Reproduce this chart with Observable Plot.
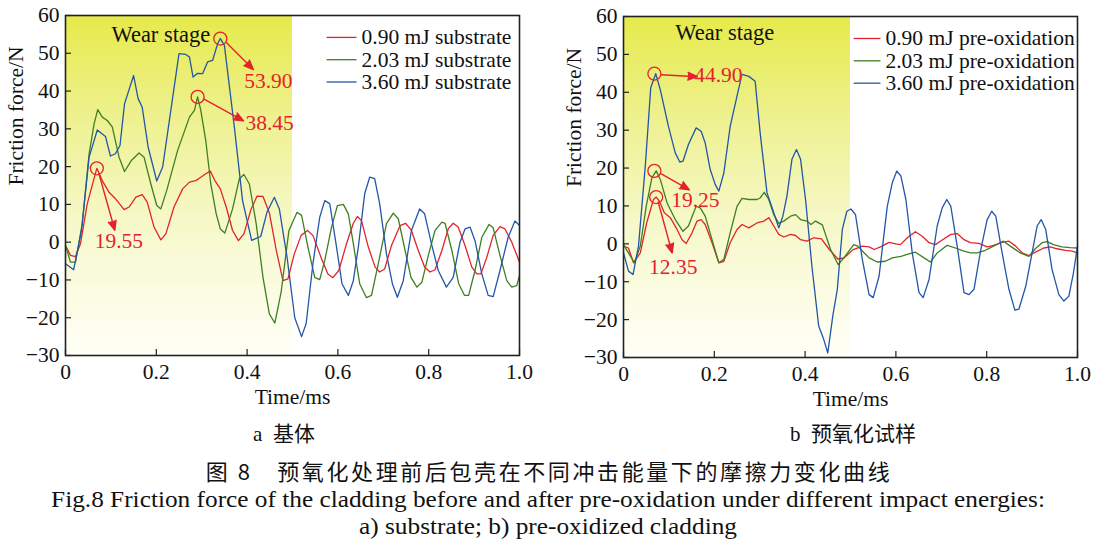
<!DOCTYPE html>
<html><head><meta charset="utf-8">
<script src="https://cdn.jsdelivr.net/npm/d3@7"></script>
<script src="https://cdn.jsdelivr.net/npm/@observablehq/plot@0.6"></script>
<style>
body{margin:0;background:#fff;}
#wrap{position:relative;width:1099px;height:550px;overflow:hidden;background:#fff;}
#row{display:flex;position:absolute;left:0;top:0;}
#row svg{display:block;}
.t{position:absolute;white-space:nowrap;color:#111;transform:translate(-50%,-50%);line-height:1;}
.w{transform:translate(-50%,-50%) scaleX(1.1);}
</style></head><body>
<div id="wrap"><div id="row"></div>
<div class="t" style="left:284px;top:432px;font:21px 'Liberation Serif','Noto Sans CJK SC';">a&nbsp; 基体</div>
<div class="t" style="left:853px;top:432px;font:21px 'Liberation Serif','Noto Sans CJK SC';">b&nbsp; 预氧化试样</div>
<div class="t" style="left:549px;top:470px;font:400 22px 'Noto Sans CJK SC';letter-spacing:2.6px;">图 8　预氧化处理前后包壳在不同冲击能量下的摩擦力变化曲线</div>
<div class="t w" style="left:548px;top:500px;font:23px 'Liberation Serif';">Fig.8 Friction force of the cladding before and after pre-oxidation under different impact energies:</div>
<div class="t w" style="left:548px;top:527px;font:23px 'Liberation Serif';">a) substrate; b) pre-oxidized cladding</div>
</div>
<script>
// ---------- data ----------
const xTicks = [0, 0.2, 0.4, 0.6, 0.8, 1.0];
const yTicks = [-30, -20, -10, 0, 10, 20, 30, 40, 50, 60];
const namesA = ["0.90 mJ substrate", "2.03 mJ substrate", "3.60 mJ substrate"];
const namesB = ["0.90 mJ pre-oxidation", "2.03 mJ pre-oxidation", "3.60 mJ pre-oxidation"];

const subRed = [[0,-0.9],[0.011,-3.5],[0.022,-3.8],[0.033,-0.4],[0.048,10.2],[0.069,19.55],[0.081,16.3],[0.096,13.2],[0.11,11.5],[0.129,8.6],[0.14,9.3],[0.155,11.9],[0.169,12.6],[0.18,10.6],[0.195,4],[0.21,0.6],[0.221,2.2],[0.239,9.3],[0.258,14.1],[0.273,15.9],[0.287,16.3],[0.298,17.2],[0.309,18.1],[0.319,18.8],[0.329,16.3],[0.341,14.1],[0.354,9.3],[0.368,3.1],[0.381,0.4],[0.393,2.2],[0.409,8.8],[0.422,12.2],[0.435,12.1],[0.449,7.8],[0.464,-2],[0.479,-10.2],[0.49,-9.7],[0.504,-3.1],[0.519,1.8],[0.533,3.1],[0.545,1.8],[0.564,-4.4],[0.578,-8.4],[0.589,-9.4],[0.602,-7.5],[0.619,-0.4],[0.634,5],[0.643,6.8],[0.652,5.7],[0.667,-1.3],[0.682,-6.6],[0.692,-7.9],[0.703,-7.1],[0.718,-0.9],[0.737,4.4],[0.749,5],[0.762,3.1],[0.777,-2.2],[0.791,-6.6],[0.803,-7.9],[0.814,-7.3],[0.829,-2.2],[0.843,3.5],[0.854,5],[0.865,4],[0.88,-0.9],[0.895,-6.6],[0.906,-8.4],[0.915,-8.4],[0.928,-4],[0.942,1.8],[0.957,4.1],[0.968,3.5],[0.983,0],[1.0,-5.3]];
const subGreen = [[0,-0.9],[0.011,-5.3],[0.022,-5.3],[0.037,4.9],[0.052,23.4],[0.063,31.3],[0.071,35.1],[0.081,33.1],[0.092,32.2],[0.103,30.5],[0.118,22.5],[0.13,18.7],[0.145,21.6],[0.162,23.6],[0.173,22.5],[0.188,15.4],[0.201,9.7],[0.21,8.8],[0.223,13.7],[0.247,24.3],[0.273,33.1],[0.284,34.9],[0.291,38.45],[0.298,34.9],[0.309,26.9],[0.32,15.4],[0.332,7.5],[0.341,3.5],[0.351,2.4],[0.368,8.8],[0.383,16.8],[0.393,17.9],[0.405,15.4],[0.42,4.9],[0.435,-9.3],[0.449,-19],[0.461,-21.4],[0.475,-13.2],[0.492,3],[0.51,7.9],[0.52,7.1],[0.534,-1.3],[0.549,-9.3],[0.56,-9.9],[0.571,-4.9],[0.586,4],[0.599,9.7],[0.612,10],[0.623,7.5],[0.634,-0.4],[0.648,-11],[0.663,-14.7],[0.674,-14.1],[0.689,-5.7],[0.707,4.9],[0.722,7.7],[0.733,6.2],[0.748,-2.2],[0.761,-9.3],[0.774,-11.9],[0.785,-10.6],[0.8,-3.1],[0.814,3.1],[0.829,5.3],[0.836,5],[0.851,-2.2],[0.866,-11],[0.879,-14.1],[0.888,-14.1],[0.902,-7.5],[0.917,1.3],[0.933,4.7],[0.942,3.8],[0.957,-3.5],[0.972,-10.2],[0.983,-11.9],[0.994,-11.5],[1.0,-8.8]];
const subBlue = [[0,-5.7],[0.018,-7.3],[0.035,3],[0.052,22.5],[0.07,29.7],[0.088,28],[0.099,22.8],[0.11,23.4],[0.12,25.6],[0.13,36.6],[0.15,44.1],[0.16,38],[0.169,35.7],[0.182,25.2],[0.201,16.2],[0.214,19.9],[0.232,34.9],[0.25,49.9],[0.265,49.7],[0.273,49],[0.281,43.7],[0.291,44.7],[0.302,44.6],[0.313,47.7],[0.324,48.1],[0.335,52.5],[0.341,53.9],[0.35,52.1],[0.372,30.4],[0.39,11],[0.41,0.5],[0.43,1.5],[0.444,8],[0.46,11.9],[0.471,8.8],[0.488,-4],[0.505,-20],[0.52,-25],[0.53,-21.6],[0.545,-5.7],[0.56,6.6],[0.571,11],[0.582,10.2],[0.597,-1.3],[0.609,-11],[0.623,-14.1],[0.634,-10.2],[0.645,-1.3],[0.659,12.8],[0.67,17.2],[0.681,16.8],[0.692,10.2],[0.707,-3.1],[0.72,-11],[0.731,-14.6],[0.744,-10.2],[0.762,3.1],[0.78,8.8],[0.791,7.5],[0.806,-0.4],[0.821,-7.5],[0.839,-11.9],[0.854,-9.3],[0.869,0],[0.88,3.5],[0.891,4],[0.902,0.4],[0.917,-8.4],[0.931,-14.1],[0.942,-14.4],[0.957,-7.5],[0.975,1.3],[0.99,5.6],[1.0,4.4]];

const preRed = [[0,-0.6],[0.011,-1.1],[0.022,-5],[0.037,-2.4],[0.051,5.5],[0.066,11.7],[0.072,12.35],[0.079,11.3],[0.09,8.2],[0.103,6.9],[0.118,3.8],[0.129,1.1],[0.138,0.1],[0.151,2.9],[0.162,6],[0.171,6.4],[0.18,5.1],[0.195,0.3],[0.21,-5],[0.221,-4.6],[0.235,0.3],[0.25,3.8],[0.261,5.1],[0.276,4.2],[0.294,5.5],[0.309,6],[0.32,6.9],[0.331,4.7],[0.342,2.5],[0.353,1.8],[0.368,2.5],[0.379,2.2],[0.39,1.1],[0.404,0.7],[0.419,1.6],[0.436,1.3],[0.452,-1.3],[0.472,-4],[0.486,-3.7],[0.505,-1.6],[0.526,-0.6],[0.541,-0.8],[0.552,-1.5],[0.566,-0.8],[0.585,0.4],[0.6,0],[0.61,-0.2],[0.627,1.8],[0.643,3.2],[0.658,2],[0.673,0.3],[0.687,-0.2],[0.702,1],[0.721,2.5],[0.735,2.7],[0.75,1.1],[0.764,0.3],[0.783,0.1],[0.801,-0.8],[0.815,-0.4],[0.834,0.4],[0.849,0.7],[0.864,-0.6],[0.878,-2.4],[0.893,-3.1],[0.907,-2.2],[0.926,-1.1],[0.94,-0.8],[0.955,-1.3],[0.973,-1.7],[0.988,-1.9],[1.0,-2.4]];
const preGreen = [[0,-0.2],[0.011,-2.4],[0.024,-5],[0.037,-0.6],[0.05,9.9],[0.0625,17.4],[0.072,19.25],[0.081,17],[0.096,10.8],[0.114,6.4],[0.131,3.3],[0.143,4.7],[0.16,9.9],[0.169,9.5],[0.18,7.3],[0.195,1.1],[0.21,-5],[0.221,-4.1],[0.235,2.9],[0.25,9.9],[0.261,12],[0.276,11.7],[0.294,11.7],[0.301,12.1],[0.31,13.6],[0.32,11.7],[0.331,7.7],[0.342,5.4],[0.353,6],[0.368,7.3],[0.379,7.7],[0.39,6.4],[0.404,6],[0.413,5.1],[0.423,6],[0.438,5],[0.456,-1.5],[0.473,-5.5],[0.49,-3],[0.507,-0.2],[0.516,-0.6],[0.526,-1.9],[0.541,-3.7],[0.559,-4.8],[0.577,-4.6],[0.592,-3.7],[0.611,-3.3],[0.625,-2.8],[0.643,-2.2],[0.662,-3.7],[0.676,-4.8],[0.691,-2.4],[0.713,-0.4],[0.731,-1.1],[0.75,-1.9],[0.764,-2.4],[0.779,-2.4],[0.797,-1.7],[0.815,-0.6],[0.837,0.7],[0.852,-0.6],[0.874,-2.4],[0.893,-3.3],[0.907,-1.3],[0.922,0.3],[0.933,0.6],[0.947,-0.2],[0.966,-0.8],[0.984,-1],[1.0,-1.1]];
const preBlue = [[0,-2.4],[0.011,-7.2],[0.021,-8.1],[0.033,-0.6],[0.048,20.5],[0.06,41.2],[0.071,44.9],[0.081,40.7],[0.099,31],[0.114,24],[0.124,21.6],[0.131,21.8],[0.143,26.2],[0.16,30.6],[0.171,29.7],[0.18,26.6],[0.191,19.6],[0.202,15.7],[0.21,13.9],[0.221,18.7],[0.235,31],[0.25,39],[0.261,44.7],[0.276,44.2],[0.29,42.9],[0.301,29.3],[0.316,13.5],[0.331,8.2],[0.342,4.2],[0.351,7.3],[0.36,12.6],[0.371,22.3],[0.381,24.9],[0.39,22.3],[0.401,11.7],[0.415,-5.9],[0.43,-21.7],[0.441,-25.2],[0.45,-28.8],[0.461,-19],[0.471,-12],[0.482,3.8],[0.492,8.6],[0.501,9.2],[0.511,7.7],[0.526,-4.1],[0.541,-13.4],[0.55,-14.2],[0.563,-8.5],[0.581,9.9],[0.592,16.1],[0.602,19.2],[0.611,17.9],[0.622,11.7],[0.636,-2.4],[0.651,-12.9],[0.66,-14.2],[0.673,-9.4],[0.691,4.7],[0.702,9.5],[0.712,11.7],[0.721,9.9],[0.735,-0.6],[0.75,-12.9],[0.761,-13.4],[0.772,-12],[0.787,-1.5],[0.801,6.4],[0.811,8.6],[0.82,7.3],[0.834,-2.4],[0.849,-12],[0.862,-17.5],[0.871,-17.2],[0.886,-11.2],[0.9,-2.4],[0.911,4.7],[0.92,6.4],[0.93,3.8],[0.944,-6.8],[0.959,-13.4],[0.97,-15.1],[0.981,-13.8],[0.991,-7.7],[1.0,-0.6]];

const peaksA = [{t:0.341, v:53.90, label:"53.90"}, {t:0.291, v:38.45, label:"38.45"}, {t:0.069, v:19.55, label:"19.55"}];
const peaksB = [{t:0.068, v:44.90, label:"44.90"}, {t:0.068, v:19.25, label:"19.25"}, {t:0.072, v:12.35, label:"12.35"}];
const wearEnd = 0.5;

// ---------- style / layout ----------
const RED = "#e3232c", GREEN = "#3f7f22", BLUE = "#2456a8";
const colors = [RED, GREEN, BLUE];
const FONT = "'Liberation Serif', 'Times New Roman', serif";
const FS = 21.5;
// pixel offsets of annotation parts relative to each peak: arrow start, arrow end, label centre
const annLayoutA = [
  {a1:[6,4],  a2:[33,31], l:[48,43]},
  {a1:[6,2],  a2:[46,24], l:[72,26]},
  {a1:[2,5],  a2:[18,62], l:[22,73]}
];
const annLayoutB = [
  {a1:[7,1],  a2:[43,3],  l:[64,1]},
  {a1:[7,3],  a2:[35,19], l:[41,29]},
  {a1:[2,5],  a2:[16,56], l:[17,70]}
];

function panel({series, names, peaks, ann, gradId, width, height, ml, mr, mt, mb, legT, wearPos}) {
  const fw = width - ml - mr, fh = height - mt - mb;
  const kx = fw / 1, ky = fh / 90;
  const annData = peaks.map((p, i) => ({...p, ...ann[i]}));
  const legRows = names.map((n, i) => ({name: n, color: colors[i], v: 54.2 - i * 5.9}));
  const marks = [
    Plot.rect([0], {x1: 0, x2: wearEnd, y1: -30, y2: 60, fill: `url(#${gradId})`}),
    ...series.map((s, i) => Plot.line(s, {x: d => d[0], y: d => d[1], stroke: colors[i], strokeWidth: 1.3})),
    Plot.tickX(xTicks, {x: d => d, insetTop: fh - 6, stroke: "#222", strokeWidth: 1.2}),
    Plot.tickY(yTicks, {y: d => d, insetRight: fw - 6, stroke: "#222", strokeWidth: 1.2}),
    Plot.frame({stroke: "#222", strokeWidth: 1.6}),
    Plot.text(["Wear stage"], {x: wearPos[0], y: wearPos[1], text: d => d, fontSize: 22.5, fill: "#111"}),
    Plot.dot(peaks, {x: "t", y: "v", r: 6.5, stroke: RED, fill: "none", strokeWidth: 1.3}),
    Plot.arrow(annData, {
      x1: d => d.t + d.a1[0] / kx, y1: d => d.v - d.a1[1] / ky,
      x2: d => d.t + d.a2[0] / kx, y2: d => d.v - d.a2[1] / ky,
      stroke: RED, fill: RED, strokeWidth: 1.4, headLength: 11, headAngle: 45
    }),
    Plot.text(annData, {x: d => d.t + d.l[0] / kx, y: d => d.v - d.l[1] / ky, text: "label", fill: RED, fontSize: FS, lineAnchor: "middle"}),
    ...legRows.map(r => Plot.link([r], {x1: legT[0], x2: legT[1], y1: r.v, y2: r.v, stroke: r.color, strokeWidth: 1.3})),
    Plot.text(legRows, {x: legT[2], y: "v", text: "name", textAnchor: "start", fontSize: FS, fill: "#111", lineAnchor: "middle"}),
    Plot.text(["Friction force/N"], {frameAnchor: "left", rotate: -90, dx: -49, text: d => d, fontSize: FS, fill: "#111"}),
    Plot.text(["Time/ms"], {frameAnchor: "bottom", dy: 42, text: d => d, fontSize: FS, fill: "#111", lineAnchor: "middle"})
  ];
  const svg = Plot.plot({
    width, height, marginLeft: ml, marginRight: mr, marginTop: mt, marginBottom: mb,
    style: {fontFamily: FONT, fontSize: FS + "px", color: "#111", background: "transparent", overflow: "visible"},
    x: {domain: [0, 1], ticks: xTicks, tickFormat: d => d === 0 ? "0" : d.toFixed(1), tickSize: 0, tickPadding: 8, label: null},
    y: {domain: [-30, 60], ticks: yTicks, tickSize: 0, tickPadding: 6, label: null},
    marks
  });
  d3.select(svg).selectAll("text").style("font-family", FONT);
  d3.select(svg).selectAll("[aria-label^='x-axis'] text, [aria-label^='y-axis'] text").style("font-size", FS + "px");
  const g = d3.select(svg).insert("defs", ":first-child").append("linearGradient")
    .attr("id", gradId).attr("x1", 0).attr("y1", 0).attr("x2", 0).attr("y2", 1);
  [[0, "#e6ea4a"], [0.3, "#eef18f"], [0.6, "#f6f8c8"], [1, "#fffff8"]].forEach(([o, c]) =>
    g.append("stop").attr("offset", o).attr("stop-color", c));
  return svg;
}

const row = document.getElementById("row");
row.appendChild(panel({series: [subRed, subGreen, subBlue], names: namesA, peaks: peaksA, ann: annLayoutA,
  gradId: "gA", width: 549, height: 410, ml: 65, mr: 30, mt: 15, mb: 55, legT: [0.575, 0.641, 0.652], wearPos: [0.21, 55]}));
row.appendChild(panel({series: [preRed, preGreen, preBlue], names: namesB, peaks: peaksB, ann: annLayoutB,
  gradId: "gB", width: 550, height: 410, ml: 74, mr: 22, mt: 16, mb: 53, legT: [0.507, 0.566, 0.577], wearPos: [0.223, 55.6]}));
</script>
</body></html>
